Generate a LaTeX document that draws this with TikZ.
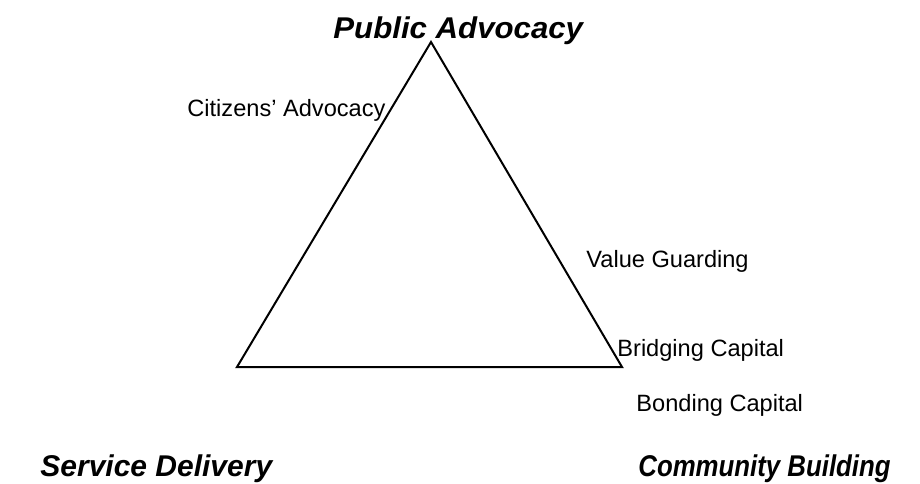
\documentclass[tikz,border=0pt]{standalone}
\usepackage{fontspec}
\usepackage{graphicx}
\setmainfont{Liberation Sans}
\begin{document}
\begin{tikzpicture}
[x=0.5pt,y=-0.5pt,
  sideDecorate/.style={-,line width=1pt,line join=miter},%
  cornerLabel/.style={font=\fontsize{15}{18}\selectfont\bfseries\itshape,inner sep=0pt,anchor=base west},%
  roleLabel/.style={font=\fontsize{11.8}{14}\selectfont,inner sep=0pt,anchor=base west}]
\useasboundingbox (0,0) rectangle (920,483);
%% corners of the triangle
\foreach \cornername/\x/\y in {top/431/42, left/237/367, right/622/367}
{
  \coordinate (\cornername) at (\x,\y);
}
\draw[sideDecorate] (top) -- (right) -- (left) -- cycle;
%% the three corners
\node[cornerLabel] (advocacy) at (333,38) {\scalebox{1.04}[1]{Public Advocacy}};
\node[cornerLabel] (service) at (40,476) {Service Delivery};
\node[cornerLabel] (community) at (638,476) {\scalebox{0.86}[1]{Community Building}};
%% roles along the sides
\foreach \labelname/\x/\y/\text in {
  citizens/187/116/{Citizens’ Advocacy}, value/586/267/{Value Guarding},
  bridging/617/356/{Bridging Capital}, bonding/636/411/{Bonding Capital}}
{
  \node[roleLabel] (\labelname) at (\x,\y) {\text};
}
\end{tikzpicture}
\end{document}
